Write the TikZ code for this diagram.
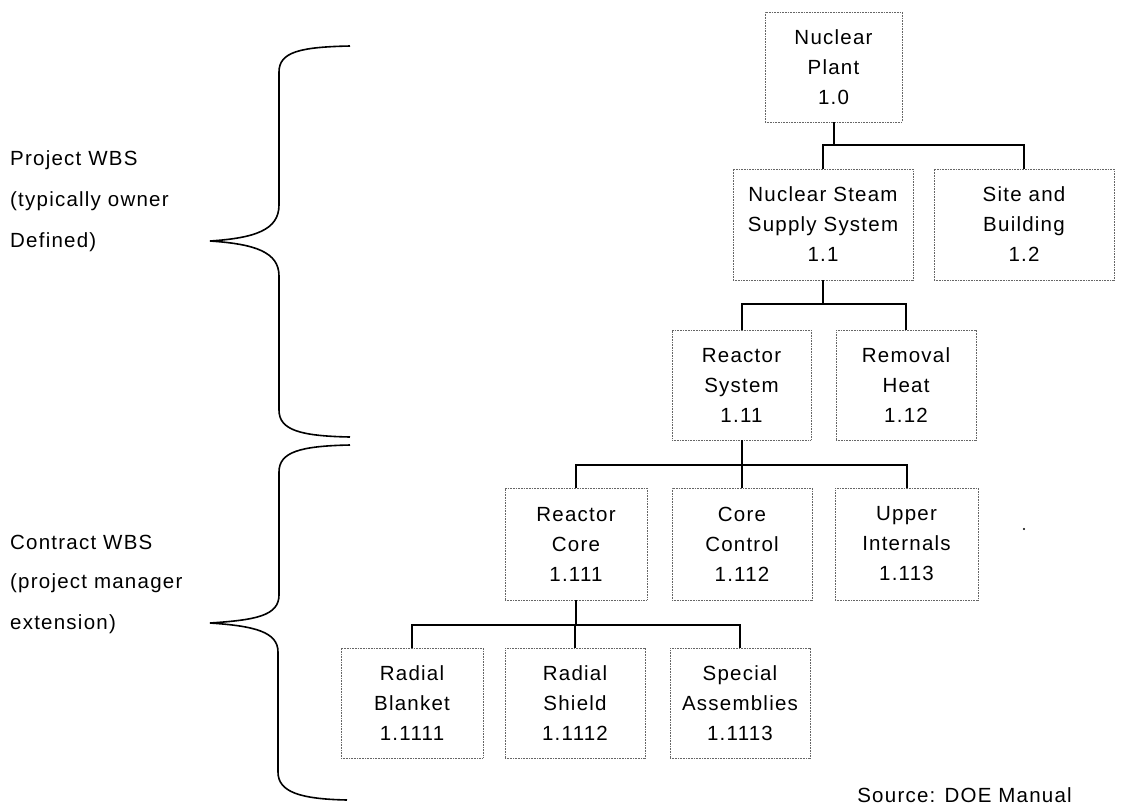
\documentclass[tikz,border=0pt]{standalone}
\usepackage{fontspec}
\setmainfont{Liberation Sans}[LetterSpace=6.0]
\begin{document}
\begin{tikzpicture}[x=1pt,y=-1pt,
  wbsbox/.style={draw=black!60, line width=0.8pt, dash pattern=on 1pt off 0.6pt,
    rectangle, inner sep=0pt, align=center,
    font=\fontsize{20.5pt}{30pt}\selectfont},
  conn/.style={line width=2pt, black},
  brace/.style={line width=1.6pt, black},
  side/.style={anchor=west, inner sep=0pt, font=\fontsize{20.5pt}{24pt}\selectfont}]
\useasboundingbox (0,0) rectangle (1122,807);

% level 0
\node[wbsbox, minimum width=137pt, minimum height=110pt] (np) at (833.5,67) {Nuclear\\Plant\\1.0};
% level 1
\node[wbsbox, minimum width=180pt, minimum height=111pt] (nsss) at (823,224.5) {Nuclear Steam\\Supply System\\1.1};
\node[wbsbox, minimum width=180pt, minimum height=111pt] (site) at (1024,224.5) {Site and\\Building\\1.2};
% level 2
\node[wbsbox, minimum width=139pt, minimum height=110pt] (rs) at (741.5,385) {Reactor\\System\\1.11};
\node[wbsbox, minimum width=140pt, minimum height=110pt] (rh) at (906,385) {Removal\\Heat\\1.12};
% level 3
\node[wbsbox, minimum width=142pt, minimum height=112pt] (rc) at (576,544) {Reactor\\Core\\1.111};
\node[wbsbox, minimum width=140pt, minimum height=112pt] (cc) at (742,544) {Core\\Control\\1.112};
\node[wbsbox, minimum width=143pt, minimum height=112pt] (ui) at (906.5,544) {Upper\\Internals\\1.113};
% level 4
\node[wbsbox, minimum width=142pt, minimum height=110pt] (rb) at (412,703) {Radial\\Blanket\\1.1111};
\node[wbsbox, minimum width=140pt, minimum height=110pt] (rsh) at (575,703) {Radial\\Shield\\1.1112};
\node[wbsbox, minimum width=140pt, minimum height=110pt] (sa) at (740,703) {Special\\Assemblies\\1.1113};

% bus levels
\coordinate (j1) at (0,145);
\coordinate (j2) at (0,304);
\coordinate (j3) at (0,465);
\coordinate (j4) at (0,625);

\draw[conn] (np.south) -- (np.south |- j1);
\draw[conn] (nsss.north) -- (nsss.north |- j1) -| (site.north);

\draw[conn] (nsss.south) -- (nsss.south |- j2);
\draw[conn] (rs.north) -- (rs.north |- j2) -| (rh.north);

\draw[conn] (rs.south) -- (rs.south |- j3);
\draw[conn] (rc.north) -- (rc.north |- j3) -| (ui.north);
\draw[conn] (cc.north) -- (cc.north |- j3);

\draw[conn] (rc.south) -- (rc.south |- j4);
\draw[conn] (rb.north) -- (rb.north |- j4) -| (sa.north);
\draw[conn] (rsh.north) -- (rsh.north |- j4);

% braces
\draw[brace] (350,46) .. controls (300,47) and (279,52) .. (279,72) -- (279,205)
  .. controls (279,230) and (255,238) .. (210,241)
  .. controls (255,244) and (279,252) .. (279,276) -- (279,410)
  .. controls (279,430) and (300,436) .. (350,437);
\draw[brace] (350,445) .. controls (300,446) and (279,452) .. (279,472) -- (279,595)
  .. controls (279,616) and (255,620) .. (210,623)
  .. controls (255,626) and (278,632) .. (278,652) -- (278,772)
  .. controls (278,792) and (300,799) .. (347,800);

% side labels
\node[side] (p1) at (10,160) {Project WBS};
\node[side] (p2) at (10,201) {(typically owner};
\node[side] (p3) at (10,242) {Defined)};
\node[side] (c1) at (10,542) {Contract WBS};
\node[side] (c2) at (10,583) {(project manager};
\node[side] (c3) at (10,624) {extension)};

\node[anchor=base east, inner sep=0pt, font=\fontsize{20.5pt}{24pt}\selectfont] (src) at (1072,802) {Source: DOE Manual};

\fill (1024,529) circle (1.2pt);
\end{tikzpicture}
\end{document}
